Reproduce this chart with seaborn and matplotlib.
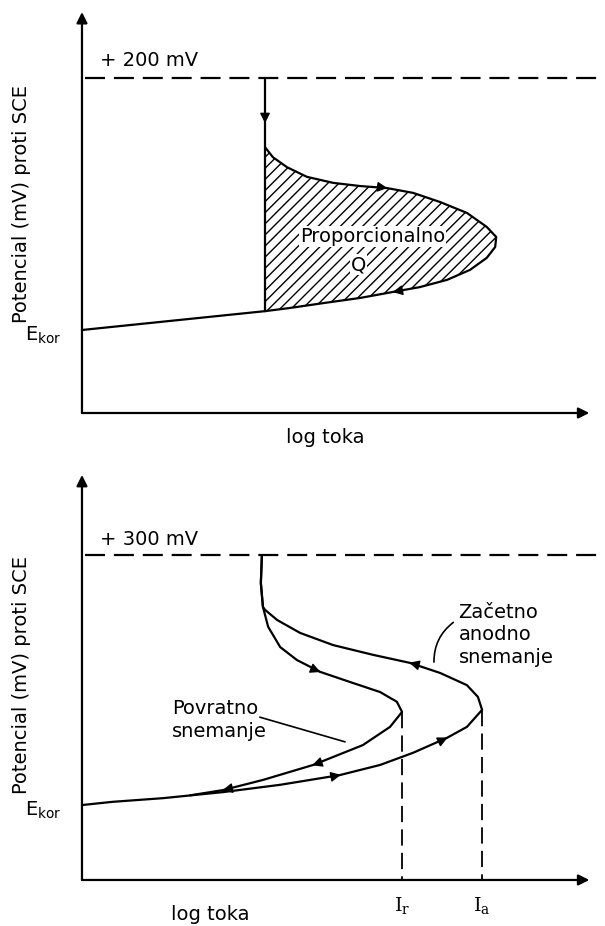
import numpy as np
import seaborn as sns
import matplotlib.pyplot as plt

# --- zgornji diagram: korak na +200 mV ---
top_level = 83.5
top_line_x = [0, 35.0]
top_line_y = [20.7, 25.4]
step_x = 35.0
loop_x = [35.0, 36.5, 39.2, 43.0, 48.0, 53.2, 58.3, 63.3, 68.5, 73.6, 77.4, 79.2,
          79.0, 77.4, 74.2, 69.8, 64.6, 59.5, 53.2, 46.1, 39.8, 35.0]
loop_y = [66.3, 63.8, 61.3, 58.9, 57.4, 56.6, 56.1, 54.9, 52.6, 49.9, 46.4, 43.9,
          41.4, 38.7, 35.7, 33.2, 31.4, 30.2, 28.7, 27.4, 26.2, 25.4]

# --- spodnji diagram: ciklicna polarizacija do +300 mV ---
bot_level = 80.2
anodic_x = [0, 5.9, 15.5, 27.0, 37.9, 49.3, 57.0, 63.3, 69.8, 73.6, 76.5, 75.7,
            73.6, 68.5, 62.7, 55.6, 48.0, 41.7, 37.3, 35.0, 34.6, 34.2, 34.4]
anodic_y = [18.5, 19.3, 20.2, 21.7, 23.5, 25.9, 28.4, 31.4, 35.1, 37.8, 42.0, 45.2,
            48.1, 51.1, 53.6, 55.6, 58.0, 61.0, 64.2, 66.7, 67.4, 73.3, 80.2]
reverse_x = [34.4, 34.2, 34.6, 35.6, 37.9, 41.1, 45.5, 51.2, 57.0, 60.2, 61.2, 58.9,
             53.7, 44.2, 34.6, 27.0, 20.7]
reverse_y = [80.2, 73.3, 67.4, 62.5, 57.5, 54.3, 51.4, 48.9, 46.4, 44.0, 41.5, 37.8,
             33.3, 28.4, 24.7, 22.2, 20.9]
I_r = 61.2
I_a = 76.5
I_r_top = 41.5
I_a_top = 42.0

sns.set_style('white')
plt.rcParams['font.family'] = ['DejaVu Sans']
plt.rcParams['text.color'] = 'black'
plt.rcParams['hatch.linewidth'] = 1.0

fig = plt.figure(figsize=(6.05, 9.26), dpi=100)
ax1 = fig.add_axes([0.1355, 0.554, 0.8645, 0.433])
ax2 = fig.add_axes([0.1355, 0.0497, 0.8645, 0.4374])

LW = 1.6
FS = 14


def curve(ax, xs, ys, **kw):
    sns.lineplot(x=xs, y=ys, sort=False, estimator=None, color='k', lw=LW, ax=ax,
                 clip_on=False, **kw)


def mark_arrow(ax, xs, ys, i):
    # majhna puscica na krivulji v smeri snemanja
    dx = xs[i + 1] - xs[i - 1]
    dy = ys[i + 1] - ys[i - 1]
    ax.annotate('', xy=(xs[i] + 0.01 * dx, ys[i] + 0.01 * dy), xytext=(xs[i], ys[i]),
                arrowprops=dict(arrowstyle='-|>', color='k', lw=1, shrinkA=0, shrinkB=0,
                                mutation_scale=15))


def axes_frame(ax):
    ax.set_xlim(0, 100)
    ax.set_ylim(0, 100)
    for s in ax.spines.values():
        s.set_visible(False)
    ax.set_xticks([])
    ax.set_yticks([])
    ax.set_xlabel('')
    ax.set_ylabel('')
    ax.patch.set_alpha(0)
    arrow = dict(arrowstyle='-|>', color='k', lw=LW, shrinkA=0, shrinkB=0, mutation_scale=16)
    ax.annotate('', xy=(0, 100), xytext=(0, 0), arrowprops=arrow, annotation_clip=False)
    ax.annotate('', xy=(97, 0), xytext=(0, 0), arrowprops=arrow, annotation_clip=False)


# ---------- zgornji ----------
ax = ax1
ax.fill(loop_x, loop_y, facecolor='none', edgecolor='k', hatch='///', lw=0)
curve(ax, top_line_x, top_line_y)
curve(ax, [step_x, step_x], [top_level, top_line_y[1]])
curve(ax, loop_x, loop_y)
ax.plot([0.5, 100], [top_level, top_level], color='k', lw=LW, dashes=(9, 4), clip_on=False)
mark_arrow(ax, [step_x, step_x, step_x], [top_level, 72.5, 60], 1)
mark_arrow(ax, loop_x, loop_y, 6)
mark_arrow(ax, loop_x, loop_y, 17)
axes_frame(ax)
ax.text(3.4, 88, '+ 200 mV', fontsize=FS, ha='left', va='center')
ax.text(-4.0, 19.3, r'$\mathregular{E_{kor}}$', fontsize=FS, ha='right', va='center')
ax.text(-11.5, 52, 'Potencial (mV) proti SCE', fontsize=FS, rotation=90,
        ha='center', va='center')
ax.text(55.5, 44, 'Proporcionalno', fontsize=FS, ha='center', va='center',
        bbox=dict(facecolor='white', edgecolor='none', pad=0.5))
ax.text(52.8, 37, 'Q', fontsize=FS, ha='center', va='center',
        bbox=dict(facecolor='white', edgecolor='none', pad=0.5))
ax.text(46.5, -6.2, 'log toka', fontsize=FS, ha='center', va='center')

# ---------- spodnji ----------
ax = ax2
curve(ax, anodic_x, anodic_y)
curve(ax, reverse_x, reverse_y)
ax.plot([0.5, 100], [bot_level, bot_level], color='k', lw=LW, dashes=(9, 4), clip_on=False)
ax.plot([I_r, I_r], [I_r_top, 0], color='k', lw=1.3, dashes=(9, 4))
ax.plot([I_a, I_a], [I_a_top, 0], color='k', lw=1.3, dashes=(9, 4))
for i in (5, 8, 14):
    mark_arrow(ax, anodic_x, anodic_y, i)
for i in (6, 13, 15):
    mark_arrow(ax, reverse_x, reverse_y, i)
axes_frame(ax)
ax.text(3.4, 84, '+ 300 mV', fontsize=FS, ha='left', va='center')
ax.text(-4.0, 17.3, r'$\mathregular{E_{kor}}$', fontsize=FS, ha='right', va='center')
ax.text(-11.5, 50.6, 'Potencial (mV) proti SCE', fontsize=FS, rotation=90,
        ha='center', va='center')
ax.text(72.0, 60.5, 'Začetno\nanodno\nsnemanje', fontsize=FS, ha='left', va='center',
        linespacing=1.25)
ax.annotate('', xy=(67.3, 53.8), xytext=(71.0, 63.6),
            arrowprops=dict(arrowstyle='-', color='k', lw=1.2, shrinkA=0, shrinkB=0,
                            connectionstyle='arc3,rad=0.25'))
ax.text(17.2, 39.5, 'Povratno\nsnemanje', fontsize=FS, ha='left', va='center',
        linespacing=1.25)
ax.annotate('', xy=(50.3, 34.1), xytext=(34.0, 40.2),
            arrowprops=dict(arrowstyle='-', color='k', lw=1.2, shrinkA=0, shrinkB=0))
ax.text(I_r, -6.2, r'$\mathrm{I}_\mathrm{r}$', fontsize=FS, ha='center', va='center',
        math_fontfamily='dejavuserif')
ax.text(I_a, -6.2, r'$\mathrm{I}_\mathrm{a}$', fontsize=FS, ha='center', va='center',
        math_fontfamily='dejavuserif')
ax.text(24.5, -8.6, 'log toka', fontsize=FS, ha='center', va='center')

fig.savefig('out.png', dpi=100)
